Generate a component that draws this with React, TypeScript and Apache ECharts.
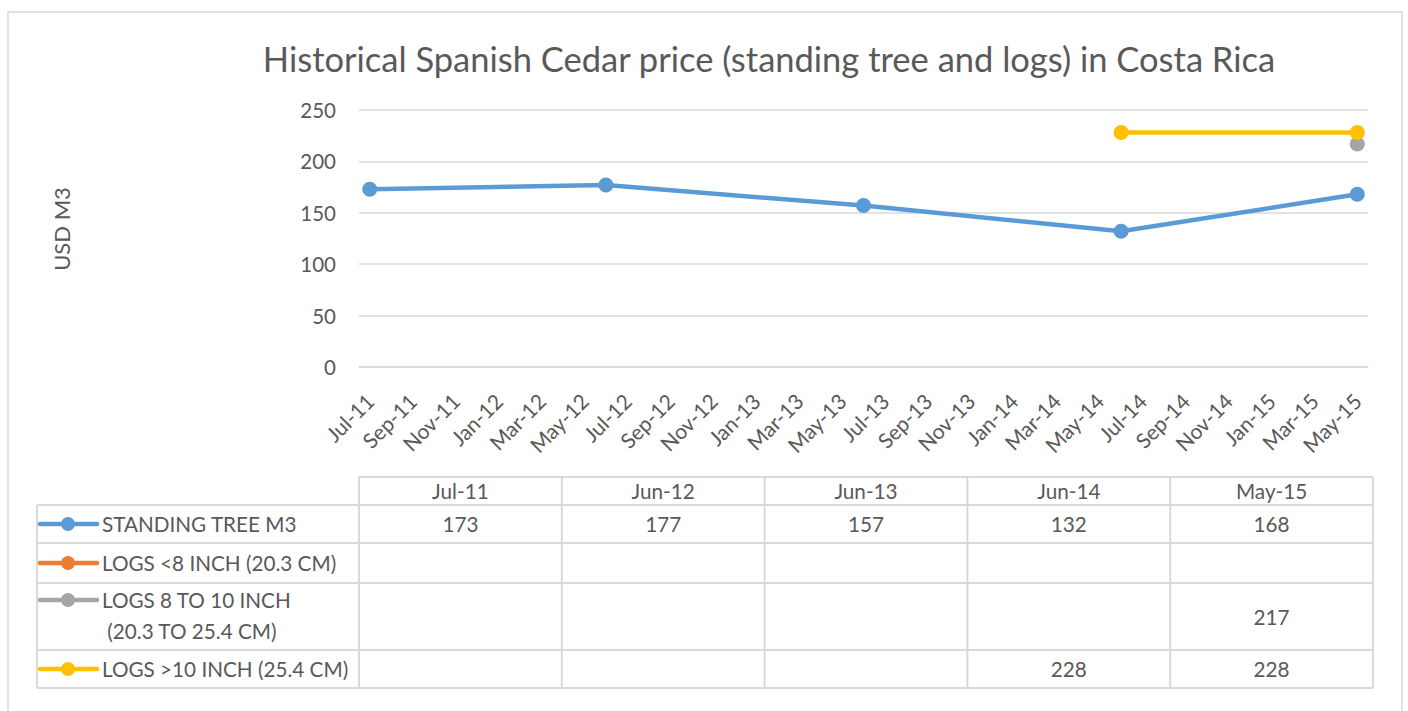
import React, { useEffect, useRef } from "react";
import * as echarts from "echarts";

const months = [
  "Jul-11", "Aug-11", "Sep-11", "Oct-11", "Nov-11", "Dec-11",
  "Jan-12", "Feb-12", "Mar-12", "Apr-12", "May-12", "Jun-12", "Jul-12", "Aug-12", "Sep-12", "Oct-12", "Nov-12", "Dec-12",
  "Jan-13", "Feb-13", "Mar-13", "Apr-13", "May-13", "Jun-13", "Jul-13", "Aug-13", "Sep-13", "Oct-13", "Nov-13", "Dec-13",
  "Jan-14", "Feb-14", "Mar-14", "Apr-14", "May-14", "Jun-14", "Jul-14", "Aug-14", "Sep-14", "Oct-14", "Nov-14", "Dec-14",
  "Jan-15", "Feb-15", "Mar-15", "Apr-15", "May-15",
];

const tableDates = ["Jul-11", "Jun-12", "Jun-13", "Jun-14", "May-15"];

const standingTree: (number | null)[] = [173, 177, 157, 132, 168];
const logsSmall: (number | null)[] = [null, null, null, null, null];
const logsMid: (number | null)[] = [null, null, null, null, 217];
const logsLarge: (number | null)[] = [null, null, null, 228, 228];

const seriesNames = [
  ["STANDING TREE M3"],
  ["LOGS <8 INCH (20.3 CM)"],
  ["LOGS 8 TO 10 INCH", " (20.3 TO 25.4 CM)"],
  ["LOGS >10 INCH (25.4 CM)"],
];
const seriesValues = [standingTree, logsSmall, logsMid, logsLarge];
const seriesColors = ["#5B9BD5", "#ED7D31", "#A5A5A5", "#FFC000"];

const yTicks = [0, 50, 100, 150, 200, 250];

const TITLE = "Historical Spanish Cedar price (standing tree and logs) in Costa Rica";
const FONT = "Lato";
const TXT = "#595959";
const GRID = "#D9D9D9";

export default function App() {
  const ref = useRef<HTMLDivElement>(null);
  useEffect(() => {
    if (!ref.current) return;
    const chart = echarts.init(ref.current, null, { renderer: "svg" });

    const plotLeft = 359;
    const plotRight = 1368;
    const tblLeft = 37;
    const tblRight = 1373;
    const colW = (tblRight - plotLeft) / tableDates.length;
    const rowLines = [477, 505, 543, 583, 650, 688];
    const TF = `20.7px ${FONT}`;

    const graphics: any[] = [];
    graphics.push({
      type: "rect",
      shape: { x: 8, y: 12, width: 1394, height: 720 },
      style: { fill: "none", stroke: GRID, lineWidth: 1.5 },
      silent: true,
    });
    graphics.push({
      type: "text",
      x: 769,
      y: 58,
      style: { text: TITLE, font: `34.5px ${FONT}`, fill: TXT, align: "center", verticalAlign: "middle" },
    });
    graphics.push({
      type: "text",
      x: 61,
      y: 229,
      rotation: Math.PI / 2,
      style: { text: "USD M3", font: `22px ${FONT}`, fill: TXT, align: "center", verticalAlign: "middle" },
    });
    rowLines.forEach((y, i) => {
      graphics.push({
        type: "line",
        shape: { x1: i === 0 ? plotLeft : tblLeft, y1: y, x2: tblRight, y2: y },
        style: { stroke: GRID, lineWidth: 2 },
      });
    });
    graphics.push({
      type: "line",
      shape: { x1: tblLeft, y1: rowLines[1], x2: tblLeft, y2: rowLines[5] },
      style: { stroke: GRID, lineWidth: 2 },
    });
    for (let c = 0; c <= tableDates.length; c++) {
      const x = plotLeft + c * colW;
      graphics.push({
        type: "line",
        shape: { x1: x, y1: rowLines[0], x2: x, y2: rowLines[5] },
        style: { stroke: GRID, lineWidth: 2 },
      });
    }
    tableDates.forEach((d, c) => {
      graphics.push({
        type: "text",
        x: plotLeft + (c + 0.5) * colW,
        y: (rowLines[0] + rowLines[1]) / 2,
        style: { text: d, font: TF, fill: TXT, align: "center", verticalAlign: "middle" },
      });
    });
    seriesNames.forEach((lines, r) => {
      const top = rowLines[r + 1];
      const bot = rowLines[r + 2];
      const mid = (top + bot) / 2;
      const keyY = lines.length > 1 ? top + 17 : mid;
      graphics.push({
        type: "line",
        shape: { x1: 40, y1: keyY, x2: 97, y2: keyY },
        style: { stroke: seriesColors[r], lineWidth: 4.5, lineCap: "round" },
      });
      graphics.push({
        type: "circle",
        shape: { cx: 68, cy: keyY, r: 7 },
        style: { fill: seriesColors[r] },
      });
      lines.forEach((ln, k) => {
        graphics.push({
          type: "text",
          x: 102,
          y: keyY + k * 31,
          style: { text: ln, font: TF, fill: TXT, align: "left", verticalAlign: "middle" },
        });
      });
      seriesValues[r].forEach((v, c) => {
        if (v == null) return;
        graphics.push({
          type: "text",
          x: plotLeft + (c + 0.5) * colW,
          y: mid,
          style: { text: String(v), font: TF, fill: TXT, align: "center", verticalAlign: "middle" },
        });
      });
    });

    const mkSeries = (r: number) => ({
      type: "line",
      name: seriesNames[r].join(""),
      data: tableDates
        .map((d, i) => (seriesValues[r][i] == null ? null : [d, seriesValues[r][i]]))
        .filter((p) => p !== null),
      symbol: "circle",
      symbolSize: 15,
      showSymbol: true,
      showAllSymbol: true,
      lineStyle: { color: seriesColors[r], width: 4.5 },
      itemStyle: { color: seriesColors[r] },
      z: 2 + (r === 2 ? 3 : r),
    });

    chart.setOption({
      animation: false,
      backgroundColor: "#ffffff",
      grid: {
        left: plotLeft,
        right: 1408 - plotRight,
        top: 110,
        bottom: 711 - 367,
        containLabel: false,
        outerBoundsMode: "none",
      },
      xAxis: {
        type: "category",
        data: months,
        boundaryGap: true,
        axisLine: { show: true, lineStyle: { color: GRID, width: 1.5 } },
        axisTick: { show: false },
        axisLabel: {
          interval: 1,
          rotate: 45,
          margin: 30,
          color: TXT,
          fontFamily: FONT,
          fontSize: 21,
        },
        splitLine: { show: false },
      },
      yAxis: {
        type: "value",
        min: yTicks[0],
        max: yTicks[yTicks.length - 1],
        interval: yTicks[1] - yTicks[0],
        axisLine: { show: false },
        axisTick: { show: false },
        axisLabel: { color: TXT, fontFamily: FONT, fontSize: 20.5, margin: 23 },
        splitLine: { lineStyle: { color: GRID, width: 1.5 } },
      },
      series: [mkSeries(0), mkSeries(1), mkSeries(2), mkSeries(3)],
      graphic: graphics,
    });
    return () => chart.dispose();
  }, []);
  return (
    <div
      ref={ref}
      style={{ position: "absolute", left: 0, top: 0, width: 1408, height: 711, background: "#fff" }}
    />
  );
}
